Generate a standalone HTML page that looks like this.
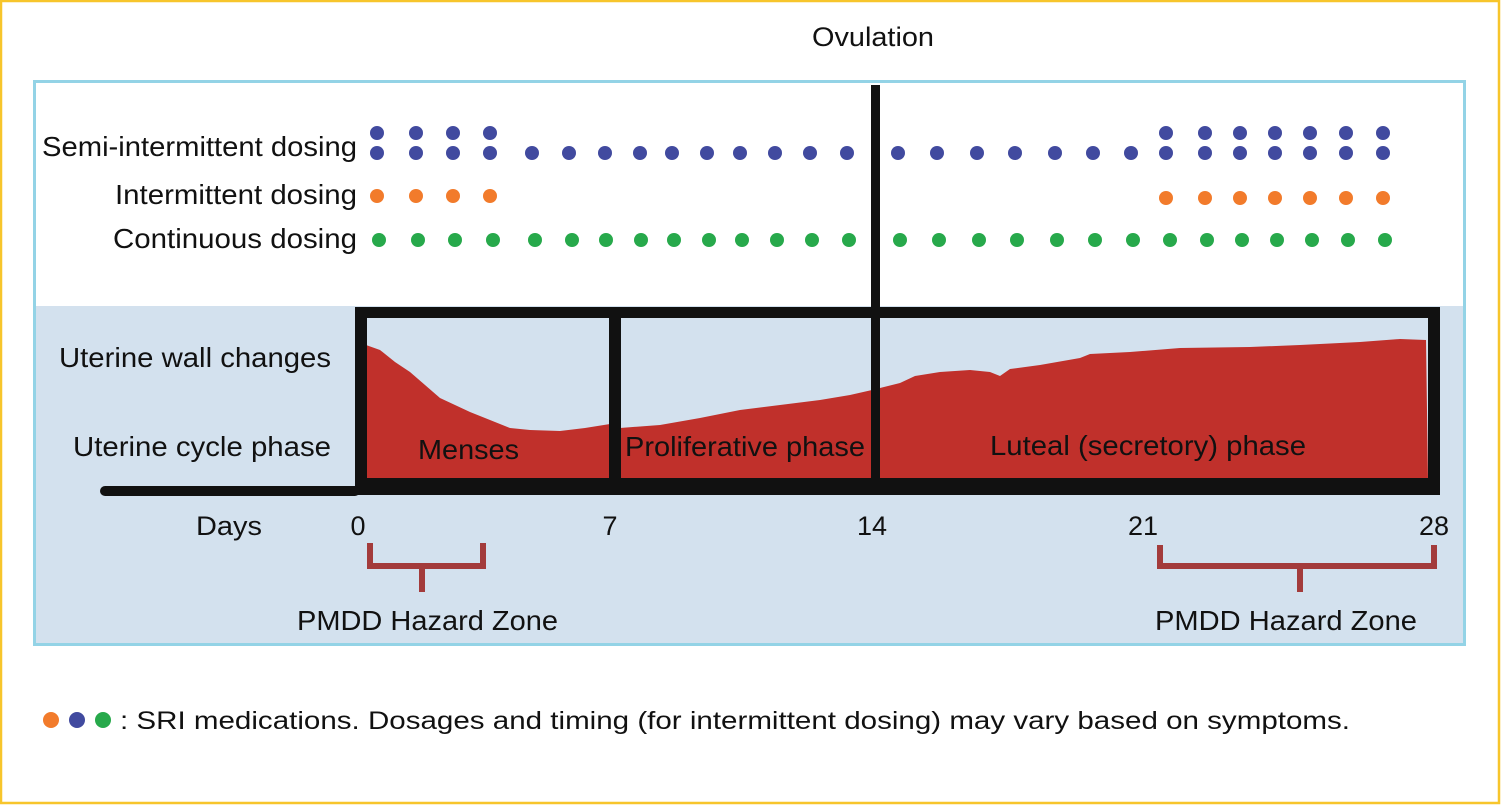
<!DOCTYPE html>
<html><head><meta charset="utf-8"><style>
html,body{margin:0;padding:0;background:#fff}
svg{display:block}
text{font-family:"Liberation Sans",sans-serif;fill:#111}
</style></head><body>
<svg width="1501" height="805" viewBox="0 0 1501 805" xmlns="http://www.w3.org/2000/svg">
<rect x="1" y="1" width="1498" height="802" fill="#fff" stroke="#f7c52b" stroke-width="2.5"/>
<rect x="34.5" y="81.5" width="1430" height="563" fill="#fff" stroke="#93d3e6" stroke-width="3"/>
<rect x="36" y="306" width="1427" height="337" fill="#d3e1ee"/>
<text x="812" y="46" font-size="27" textLength="122" lengthAdjust="spacingAndGlyphs">Ovulation</text>
<g font-size="28" lengthAdjust="spacingAndGlyphs">
<text x="42" y="156" textLength="315" lengthAdjust="spacingAndGlyphs">Semi-intermittent dosing</text>
<text x="115" y="204" textLength="242" lengthAdjust="spacingAndGlyphs">Intermittent dosing</text>
<text x="113" y="248" textLength="244" lengthAdjust="spacingAndGlyphs">Continuous dosing</text>
<text x="59" y="367" textLength="272" lengthAdjust="spacingAndGlyphs">Uterine wall changes</text>
<text x="73" y="456" textLength="258" lengthAdjust="spacingAndGlyphs">Uterine cycle phase</text>
</g>
<g fill="#414a9f">
<circle cx="377" cy="133" r="7"/><circle cx="416" cy="133" r="7"/><circle cx="453" cy="133" r="7"/><circle cx="490" cy="133" r="7"/>
<circle cx="377" cy="153" r="7"/><circle cx="416" cy="153" r="7"/><circle cx="453" cy="153" r="7"/><circle cx="490" cy="153" r="7"/>
<circle cx="532" cy="153" r="7"/><circle cx="569" cy="153" r="7"/><circle cx="605" cy="153" r="7"/><circle cx="640" cy="153" r="7"/><circle cx="672" cy="153" r="7"/><circle cx="707" cy="153" r="7"/><circle cx="740" cy="153" r="7"/><circle cx="775" cy="153" r="7"/><circle cx="810" cy="153" r="7"/><circle cx="847" cy="153" r="7"/>
<circle cx="898" cy="153" r="7"/><circle cx="937" cy="153" r="7"/><circle cx="977" cy="153" r="7"/><circle cx="1015" cy="153" r="7"/><circle cx="1055" cy="153" r="7"/><circle cx="1093" cy="153" r="7"/><circle cx="1131" cy="153" r="7"/>
<circle cx="1166" cy="133" r="7"/><circle cx="1205" cy="133" r="7"/><circle cx="1240" cy="133" r="7"/><circle cx="1275" cy="133" r="7"/><circle cx="1310" cy="133" r="7"/><circle cx="1346" cy="133" r="7"/><circle cx="1383" cy="133" r="7"/>
<circle cx="1166" cy="153" r="7"/><circle cx="1205" cy="153" r="7"/><circle cx="1240" cy="153" r="7"/><circle cx="1275" cy="153" r="7"/><circle cx="1310" cy="153" r="7"/><circle cx="1346" cy="153" r="7"/><circle cx="1383" cy="153" r="7"/>
</g>
<g fill="#f27b2b">
<circle cx="377" cy="196" r="7"/><circle cx="416" cy="196" r="7"/><circle cx="453" cy="196" r="7"/><circle cx="490" cy="196" r="7"/>
<circle cx="1166" cy="198" r="7"/><circle cx="1205" cy="198" r="7"/><circle cx="1240" cy="198" r="7"/><circle cx="1275" cy="198" r="7"/><circle cx="1310" cy="198" r="7"/><circle cx="1346" cy="198" r="7"/><circle cx="1383" cy="198" r="7"/>
</g>
<g fill="#27a94b">
<circle cx="379" cy="240" r="7"/><circle cx="418" cy="240" r="7"/><circle cx="455" cy="240" r="7"/><circle cx="493" cy="240" r="7"/><circle cx="535" cy="240" r="7"/><circle cx="572" cy="240" r="7"/><circle cx="606" cy="240" r="7"/><circle cx="641" cy="240" r="7"/><circle cx="674" cy="240" r="7"/><circle cx="709" cy="240" r="7"/><circle cx="742" cy="240" r="7"/><circle cx="777" cy="240" r="7"/><circle cx="812" cy="240" r="7"/><circle cx="849" cy="240" r="7"/>
<circle cx="900" cy="240" r="7"/><circle cx="939" cy="240" r="7"/><circle cx="979" cy="240" r="7"/><circle cx="1017" cy="240" r="7"/><circle cx="1057" cy="240" r="7"/><circle cx="1095" cy="240" r="7"/><circle cx="1133" cy="240" r="7"/><circle cx="1170" cy="240" r="7"/><circle cx="1207" cy="240" r="7"/><circle cx="1242" cy="240" r="7"/><circle cx="1277" cy="240" r="7"/><circle cx="1312" cy="240" r="7"/><circle cx="1348" cy="240" r="7"/><circle cx="1385" cy="240" r="7"/>
</g>
<g fill="#c0302b">
<path d="M366,345 L380,350 L395,362 L410,372 L425,385 L440,398 L455,405 L470,412 L490,420 L510,428 L530,430 L560,431 L585,428 L610,424 L610,480 L366,480 Z"/>
<path d="M620,428 L660,425 L700,418 L740,410 L780,405 L820,400 L850,395 L872,390 L872,480 L620,480 Z"/>
<path d="M880,388 L900,383 L915,376 L940,372 L970,370 L990,372 L1000,376 L1010,369 L1040,365 L1080,358 L1090,354 L1130,352 L1180,348 L1250,347 L1300,345 L1360,342 L1400,339 L1426,340 L1428,480 L880,480 Z"/>
</g>
<g fill="#111">
<rect x="355" y="307" width="12" height="188"/>
<rect x="355" y="307" width="1085" height="11"/>
<rect x="1428" y="307" width="12" height="188"/>
<rect x="355" y="478" width="1085" height="17"/>
<rect x="609" y="312" width="12" height="180"/>
<rect x="871" y="85" width="9" height="408"/>
<rect x="100" y="486" width="260" height="10" rx="5"/>
</g>
<g font-size="28">
<text x="418" y="459" textLength="101" lengthAdjust="spacingAndGlyphs">Menses</text>
<text x="625" y="456" textLength="240" lengthAdjust="spacingAndGlyphs">Proliferative phase</text>
<text x="990" y="455" textLength="316" lengthAdjust="spacingAndGlyphs">Luteal (secretory) phase</text>
</g>
<g font-size="27" text-anchor="middle">
<text x="229" y="535" textLength="66" lengthAdjust="spacingAndGlyphs">Days</text>
<text x="358" y="535">0</text>
<text x="610" y="535">7</text>
<text x="872" y="535">14</text>
<text x="1143" y="535">21</text>
<text x="1434" y="535">28</text>
</g>
<g fill="none" stroke="#a33b3b" stroke-width="6">
<path d="M370,543 L370,566 L483,566 L483,543 M422,566 L422,592"/>
<path d="M1160,545 L1160,566 L1434,566 L1434,545 M1300,566 L1300,592"/>
</g>
<g font-size="28">
<text x="297" y="630" textLength="261" lengthAdjust="spacingAndGlyphs">PMDD Hazard Zone</text>
<text x="1155" y="630" textLength="262" lengthAdjust="spacingAndGlyphs">PMDD Hazard Zone</text>
</g>
<circle cx="51" cy="720" r="8" fill="#f27b2b"/>
<circle cx="77" cy="720" r="8" fill="#414a9f"/>
<circle cx="103" cy="720" r="8" fill="#27a94b"/>
<text x="120" y="729" font-size="25" textLength="1230" lengthAdjust="spacingAndGlyphs">: SRI medications. Dosages and timing (for intermittent dosing) may vary based on symptoms.</text>
</svg>
</body></html>
